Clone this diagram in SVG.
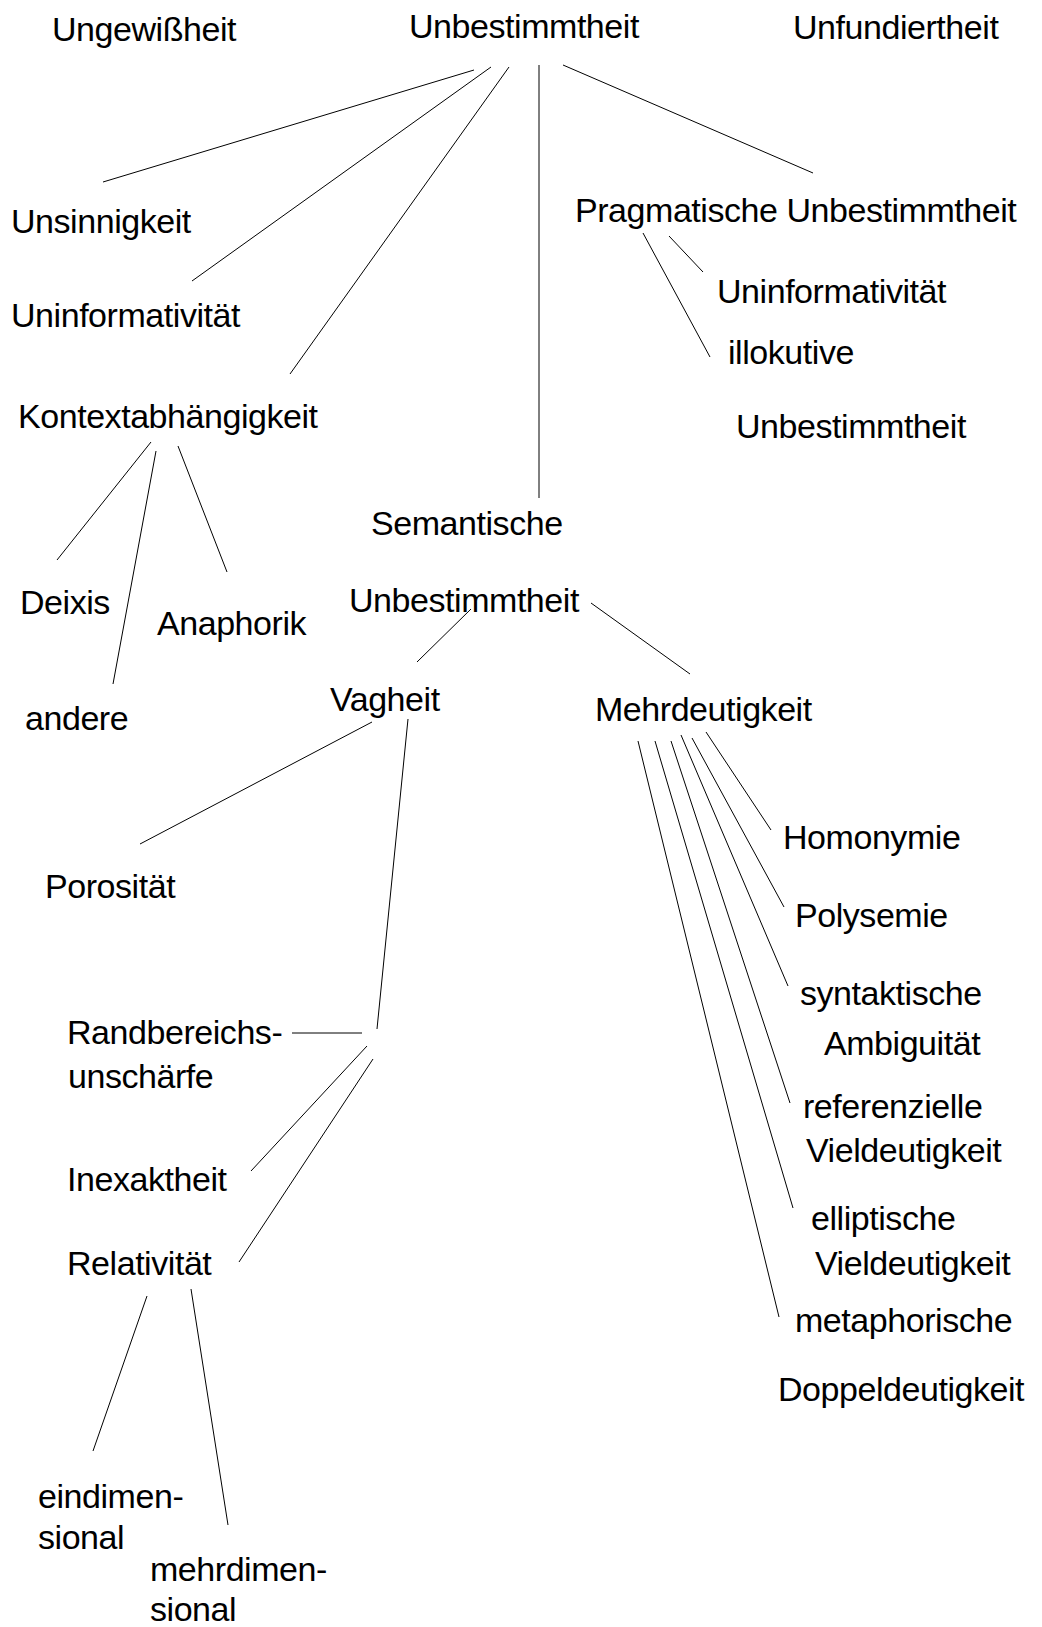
<svg xmlns="http://www.w3.org/2000/svg" width="1042" height="1627" viewBox="0 0 1042 1627">
<style>
text{font-family:"Liberation Sans",Arial,sans-serif;font-size:34px;letter-spacing:-0.45px;fill:#000}
.c line{stroke:#000;stroke-width:1;fill:none}
</style>
<rect width="1042" height="1627" fill="#fff"/>
<g id="connectors" class="c">
<line x1="474" y1="70" x2="103" y2="182"/>
<line x1="491" y1="67" x2="192" y2="281"/>
<line x1="509" y1="67" x2="290" y2="374"/>
<line x1="539" y1="65" x2="539" y2="498"/>
<line x1="563" y1="65" x2="813" y2="173"/>
<line x1="643" y1="233" x2="710" y2="357"/>
<line x1="669" y1="236" x2="703" y2="272"/>
<line x1="151" y1="442" x2="57" y2="560"/>
<line x1="156" y1="451" x2="113" y2="684"/>
<line x1="178" y1="446" x2="227" y2="572"/>
<line x1="471" y1="609" x2="417" y2="662"/>
<line x1="591" y1="603" x2="690" y2="674"/>
<line x1="372" y1="722" x2="140" y2="844"/>
<line x1="408" y1="719" x2="377" y2="1029"/>
<line x1="292" y1="1033" x2="362" y2="1033"/>
<line x1="367" y1="1046" x2="251" y2="1171"/>
<line x1="373" y1="1059" x2="239" y2="1262"/>
<line x1="147" y1="1296" x2="93" y2="1451"/>
<line x1="191" y1="1289" x2="228" y2="1525"/>
<line x1="706" y1="732" x2="771" y2="830"/>
<line x1="692" y1="738" x2="784" y2="907"/>
<line x1="681" y1="735" x2="788" y2="986"/>
<line x1="671" y1="741" x2="790" y2="1103"/>
<line x1="655" y1="741" x2="793" y2="1208"/>
<line x1="638" y1="741" x2="779" y2="1317"/>
</g>
<g id="n-ungewissheit"><text x="52" y="41">Ungewißheit</text></g>
<g id="n-unbestimmtheit"><text x="409" y="38">Unbestimmtheit</text></g>
<g id="n-unfundiertheit"><text x="793" y="39">Unfundiertheit</text></g>
<g id="n-unsinnigkeit"><text x="11" y="233">Unsinnigkeit</text></g>
<g id="n-uninformativitaet"><text x="11" y="327">Uninformativität</text></g>
<g id="n-kontextabhaengigkeit"><text x="18" y="428">Kontextabhängigkeit</text></g>
<g id="n-pragmatische"><text x="575" y="222">Pragmatische Unbestimmtheit</text></g>
<g id="n-prag-uninformativitaet"><text x="717" y="303">Uninformativität</text></g>
<g id="n-illokutive"><text x="728" y="364">illokutive</text><text x="736" y="438">Unbestimmtheit</text></g>
<g id="n-semantische"><text x="371" y="535">Semantische</text><text x="349" y="612">Unbestimmtheit</text></g>
<g id="n-deixis"><text x="20" y="614">Deixis</text></g>
<g id="n-anaphorik"><text x="157" y="635">Anaphorik</text></g>
<g id="n-andere"><text x="25" y="730">andere</text></g>
<g id="n-vagheit"><text x="330" y="711">Vagheit</text></g>
<g id="n-mehrdeutigkeit"><text x="595" y="721">Mehrdeutigkeit</text></g>
<g id="n-homonymie"><text x="783" y="849">Homonymie</text></g>
<g id="n-polysemie"><text x="795" y="927">Polysemie</text></g>
<g id="n-syntaktische"><text x="800" y="1005">syntaktische</text><text x="824" y="1055">Ambiguität</text></g>
<g id="n-referenzielle"><text x="803" y="1118">referenzielle</text><text x="806" y="1162">Vieldeutigkeit</text></g>
<g id="n-elliptische"><text x="811" y="1230">elliptische</text><text x="815" y="1275">Vieldeutigkeit</text></g>
<g id="n-metaphorische"><text x="795" y="1332">metaphorische</text><text x="778" y="1401">Doppeldeutigkeit</text></g>
<g id="n-porositaet"><text x="45" y="898">Porosität</text></g>
<g id="n-randbereichsunschaerfe"><text x="67" y="1044">Randbereichs-</text><text x="68" y="1088">unschärfe</text></g>
<g id="n-inexaktheit"><text x="67" y="1191">Inexaktheit</text></g>
<g id="n-relativitaet"><text x="67" y="1275">Relativität</text></g>
<g id="n-eindimensional"><text x="38" y="1508">eindimen-</text><text x="38" y="1549">sional</text></g>
<g id="n-mehrdimensional"><text x="150" y="1581">mehrdimen-</text><text x="150" y="1621">sional</text></g>
</svg>
